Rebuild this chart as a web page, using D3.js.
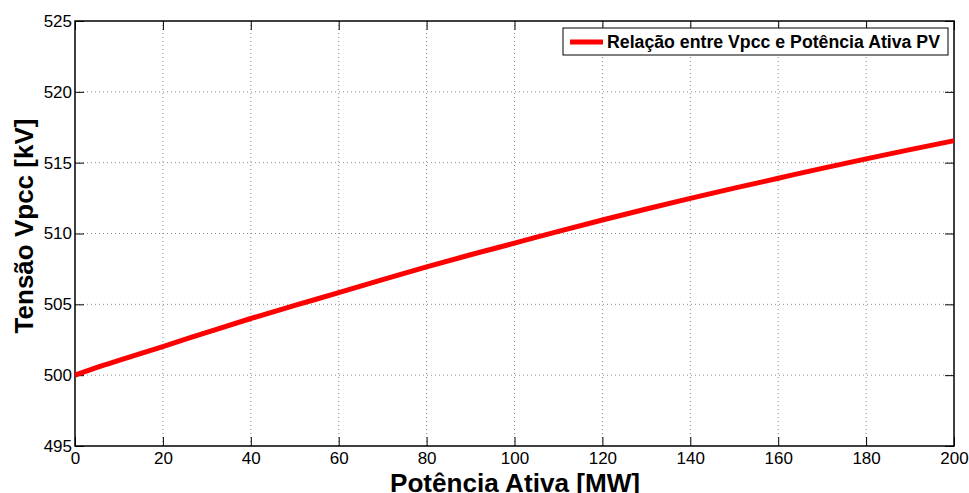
<!DOCTYPE html>
<html>
<head>
<meta charset="utf-8">
<script src="https://cdn.jsdelivr.net/npm/d3@7"></script>
<style>
  html, body { margin: 0; padding: 0; background: #fff; }
  svg { display: block; font-family: Arial, sans-serif; }
</style>
</head>
<body>
<svg id="chart" width="969" height="493"></svg>
<script>
// Data
const powerMW = [0, 5, 10, 20, 30, 40, 50, 60, 70, 80, 90, 100, 110, 120, 130, 140, 150, 160, 170, 180, 190, 200];
const vpccKV  = [500, 500.55, 501.05, 502.02, 503.02, 504.0, 504.92, 505.82, 506.75, 507.65, 508.5, 509.32, 510.15, 510.95, 511.73, 512.48, 513.2, 513.9, 514.6, 515.27, 515.92, 516.55];
const xTicks = [0, 20, 40, 60, 80, 100, 120, 140, 160, 180, 200];
const yTicks = [495, 500, 505, 510, 515, 520, 525];
const seriesName = "Relação entre Vpcc e Potência Ativa PV";
const xLabel = "Potência Ativa [MW]";
const yLabel = "Tensão Vpcc [kV]";

const FONT = "Arial, sans-serif";
const svg = d3.select("#chart");
const L = 75, R = 954, T = 21, B = 446;

const x = d3.scaleLinear().domain([0, 200]).range([L, R]);
const y = d3.scaleLinear().domain([495, 525]).range([B, T]);

// Grid
const grid = svg.append("g");
grid.selectAll(".vg").data(xTicks.slice(1, -1)).enter().append("line")
  .attr("x1", d => x(d)).attr("x2", d => x(d)).attr("y1", T).attr("y2", B)
  .attr("stroke", "#8c8c8c").attr("stroke-width", 1).attr("stroke-dasharray", "1,3");
grid.selectAll(".hg").data(yTicks.slice(1, -1)).enter().append("line")
  .attr("y1", d => y(d)).attr("y2", d => y(d)).attr("x1", L).attr("x2", R)
  .attr("stroke", "#8c8c8c").attr("stroke-width", 1).attr("stroke-dasharray", "1,3");

// Axes (ticks inside)
const tl = 9;
const xAxisB = d3.axisBottom(x).tickValues(xTicks).tickSize(-tl).tickFormat(d3.format("d"));
const xAxisT = d3.axisTop(x).tickValues(xTicks).tickSize(-tl).tickFormat("");
const yAxisL = d3.axisLeft(y).tickValues(yTicks).tickSize(-tl).tickFormat(d3.format("d"));
const yAxisR = d3.axisRight(y).tickValues(yTicks).tickSize(-tl).tickFormat("");

function style(g) {
  g.select(".domain").remove();
  g.selectAll(".tick line").attr("stroke", "#000").attr("stroke-width", 1);
  g.selectAll(".tick text").attr("fill", "#000").attr("font-size", 17)
    .attr("font-family", FONT);
}
svg.append("g").attr("transform", `translate(0,${B})`).call(xAxisB).call(style)
  .selectAll(".tick text").attr("dy", "0.71em").attr("y", 6);
svg.append("g").attr("transform", `translate(0,${T})`).call(xAxisT).call(style);
svg.append("g").attr("transform", `translate(${L},0)`).call(yAxisL).call(style)
  .selectAll(".tick text").attr("x", -3);
svg.append("g").attr("transform", `translate(${R},0)`).call(yAxisR).call(style);

// Frame
svg.append("rect").attr("x", L).attr("y", T).attr("width", R - L).attr("height", B - T)
  .attr("fill", "none").attr("stroke", "#000").attr("stroke-width", 1.5);

// Line
const line = d3.line().x((d, i) => x(powerMW[i])).y(d => y(d)).curve(d3.curveMonotoneX);
svg.append("path").datum(vpccKV).attr("d", line)
  .attr("fill", "none").attr("stroke", "#ff0000").attr("stroke-width", 5)
  .attr("stroke-linejoin", "round");

// Legend
const lg = svg.append("g");
lg.append("rect").attr("x", 563).attr("y", 28).attr("width", 385).attr("height", 27)
  .attr("fill", "#fff").attr("stroke", "#000").attr("stroke-width", 1);
lg.append("line").attr("x1", 570).attr("x2", 603).attr("y1", 42).attr("y2", 42)
  .attr("stroke", "#ff0000").attr("stroke-width", 5);
lg.append("text").attr("x", 607).attr("y", 42).attr("dy", "0.35em")
  .attr("font-family", FONT)
  .attr("font-size", 17.5).attr("font-weight", "bold").attr("fill", "#000")
  .attr("textLength", 333).attr("lengthAdjust", "spacingAndGlyphs")
  .text(seriesName);

// Axis labels
svg.append("text").attr("x", 515).attr("y", 492)
  .attr("font-family", FONT)
  .attr("text-anchor", "middle").attr("font-size", 25.5).attr("font-weight", "bold")
  .attr("textLength", 250).attr("lengthAdjust", "spacingAndGlyphs")
  .text(xLabel);
svg.append("text").attr("transform", `translate(33,226) rotate(-90)`)
  .attr("font-family", FONT)
  .attr("text-anchor", "middle").attr("font-size", 26).attr("font-weight", "bold")
  .text(yLabel);
</script>
</body>
</html>
